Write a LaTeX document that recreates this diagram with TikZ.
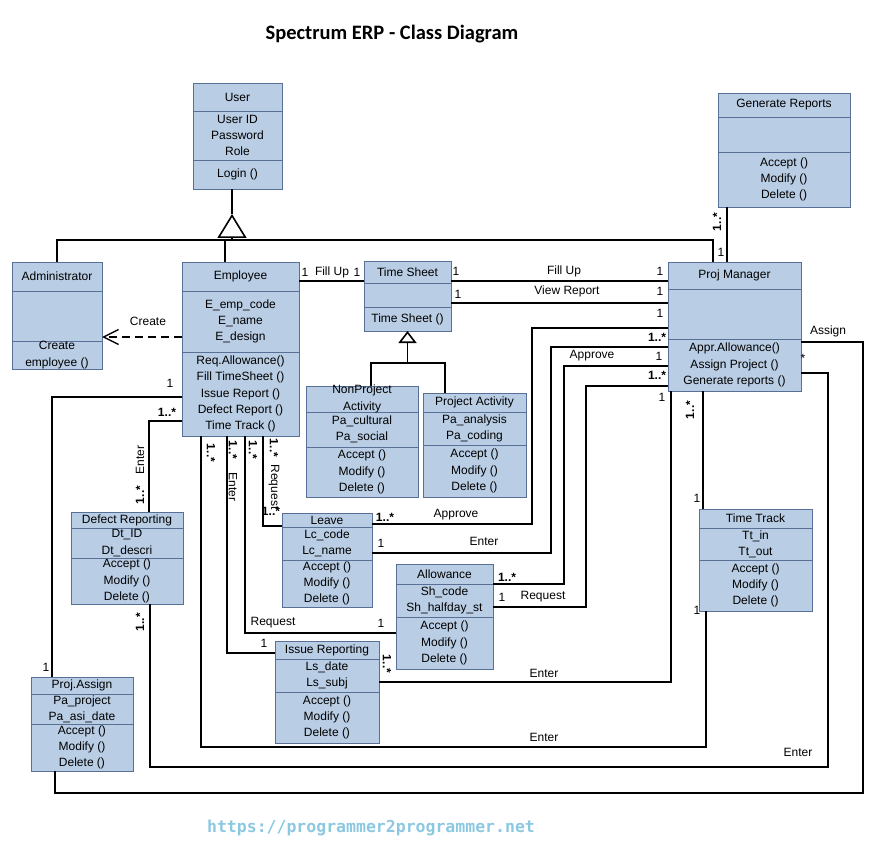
\documentclass[tikz,border=0pt]{standalone}
\usepackage{fontspec}
\setmainfont{Liberation Sans}
\newfontfamily\titlefont{Carlito}
\newfontfamily\urlfont{DejaVu Sans Mono}
\usetikzlibrary{arrows.meta,calc}

\definecolor{clsfill}{RGB}{185,205,228}
\definecolor{clsdraw}{RGB}{88,112,150}
\definecolor{urlblue}{RGB}{140,200,226}

% box with two dividers: name, left, right, top, div1, div2, bottom
\newcommand{\umlclass}[7]{%
  \node[clsbox, minimum width=#3-#2, minimum height=#7-#4] (#1) at ({(#2+#3)/2},{(#4+#7)/2}) {};
  \coordinate (#1-d1) at (#1.center |- 0,#5);
  \coordinate (#1-d2) at (#1.center |- 0,#6);
  \draw[clsedge] (#1.west |- #1-d1) -- (#1.east |- #1-d1) (#1.west |- #1-d2) -- (#1.east |- #1-d2);
}
% name, header, attributes, operations
\newcommand{\umltext}[4]{%
  \node[clstext] (#1-h) at ($(#1.north)!.5!(#1-d1)$) {#2};
  \node[clstext] (#1-a) at ($(#1-d1)!.5!(#1-d2)$) {#3};
  \node[clstext] (#1-m) at ($(#1-d2)!.5!(#1.south)$) {#4};
}

\begin{document}
\begin{tikzpicture}[x=1pt,y=-1pt,
    clsbox/.style={draw=clsdraw, fill=clsfill, line width=0.8pt, inner sep=0pt, outer sep=0pt},
    clsedge/.style={draw=clsdraw, line width=0.8pt},
    clstext/.style={align=center, inner sep=0pt, font=\fontsize{12}{16.3}\selectfont},
    assoc/.style={line width=1.6pt},
    mult/.style={inner sep=0pt, font=\fontsize{12}{14}\selectfont},
    mbold/.style={inner sep=0pt, font=\fontsize{12}{14}\selectfont\bfseries}]
\useasboundingbox (0,0) rectangle (870,842);

\node[font=\titlefont\bfseries\fontsize{20.5}{22}\selectfont] (title) at (392,34) {Spectrum ERP - Class Diagram};

% classes
\umlclass{user}{193}{282}{83}{111}{160}{189}
\umltext{user}{User}{User ID\\Password\\Role}{Login ()}
\umlclass{admin}{12}{102}{262}{291}{341}{369}
\umltext{admin}{Administrator}{}{Create\\employee ()}
\umlclass{emp}{182}{299}{262}{291}{352}{436}
\umltext{emp}{Employee}{E\_emp\_code\\E\_name\\E\_design}{Req.Allowance()\\Fill TimeSheet ()\\Issue Report ()\\Defect Report ()\\Time Track ()}
\umlclass{ts}{364}{451}{261}{283}{307}{331}
\umltext{ts}{Time Sheet}{}{Time Sheet ()}
\umlclass{nonproj}{306}{418}{386}{412}{447}{497}
\umltext{nonproj}{NonProject\\Activity}{Pa\_cultural\\Pa\_social}{Accept ()\\Modify ()\\Delete ()}
\umlclass{projact}{423}{526}{393}{412}{445}{497}
\umltext{projact}{Project Activity}{Pa\_analysis\\Pa\_coding}{Accept ()\\Modify ()\\Delete ()}
\umlclass{genrep}{718}{850}{93}{117}{152}{207}
\umltext{genrep}{Generate Reports}{}{Accept ()\\Modify ()\\Delete ()}
\umlclass{pm}{668}{801}{262}{289}{339}{391}
\umltext{pm}{Proj Manager}{}{Appr.Allowance()\\Assign Project ()\\Generate reports ()}
\umlclass{defect}{71}{183}{512}{528}{558}{604}
\umltext{defect}{Defect Reporting}{Dt\_ID\\Dt\_descri}{Accept ()\\Modify ()\\Delete ()}
\umlclass{leave}{282}{372}{513}{527}{560}{607}
\umltext{leave}{Leave}{Lc\_code\\Lc\_name}{Accept ()\\Modify ()\\Delete ()}
\umlclass{allow}{396}{493}{564}{584}{617}{669}
\umltext{allow}{Allowance}{Sh\_code\\Sh\_halfday\_st}{Accept ()\\Modify ()\\Delete ()}
\umlclass{issue}{275}{379}{641}{659}{692}{743}
\umltext{issue}{Issue Reporting}{Ls\_date\\Ls\_subj}{Accept ()\\Modify ()\\Delete ()}
\umlclass{ttrack}{699}{812}{509}{528}{560}{611}
\umltext{ttrack}{Time Track}{Tt\_in\\Tt\_out}{Accept ()\\Modify ()\\Delete ()}
\umlclass{passign}{31}{133}{677}{694}{724}{771}
\umltext{passign}{Proj.Assign}{Pa\_project\\Pa\_asi\_date}{Accept ()\\Modify ()\\Delete ()}

% generalizations
\coordinate (ugen) at (232,214);
\draw[assoc] (ugen) -- (user.south -| ugen);
\draw[assoc, -{Triangle[open,length=24pt,width=29pt]}] (ugen |- 0,240) -- (ugen);
\draw[assoc] (admin.north) |- (713,240) -- (pm.north -| 713,0);
\draw[assoc] (emp.north -| 225,0) -- (225,240);
\coordinate (tgen) at (ts.south |- 0,363);
\draw[assoc, -{Triangle[open,length=12pt,width=18pt]}] (tgen) -- (ts.south);
\draw[assoc] (nonproj.north -| 371,0) |- (tgen) -| (projact.north -| 445,0);

% dependency
\draw[line width=1.4pt, dash pattern=on 8pt off 5pt, -{Straight Barb[length=15pt,width=15pt]}] (emp.west |- 0,337) -- (admin.east |- 0,337);
\node[mult] (lcreate) at (148,321) {Create};

% associations
\draw[assoc] (emp.east |- 0,281) -- (ts.west |- 0,281);
\node[mult] (fa1) at (305,272) {1};
\node[mult] (fa2) at (332,272) {Fill Up};
\node[mult] (fa3) at (357,272) {1};

\draw[assoc] (ts.east |- 0,281) -- (pm.west |- 0,281);
\node[mult] (fb1) at (456,271) {1};
\node[mult] (fb2) at (564,271) {Fill Up};
\node[mult] (fb3) at (660,271) {1};

\draw[assoc] (ts.east |- 0,303) -- (pm.west |- 0,303);
\node[mult] (vr1) at (458,294) {1};
\node[mult] (vr2) at (567,291) {View Report};
\node[mult] (vr3) at (660,291) {1};

\draw[assoc] (genrep.south -| 727,0) -- (pm.north -| 727,0);
\node[mbold, rotate=90] (gr1) at (717,222) {1..*};
\node[mult] (gr2) at (721,252) {1};

\draw[assoc] (pm.south -| 703,0) -- (ttrack.north -| 703,0);
\node[mbold, rotate=90] (tt1) at (690,410) {1..*};
\node[mult] (tt2) at (697,498) {1};

\draw[assoc] (leave.east |- 0,524) -| (532,328) -- (pm.west |- 0,328);
\node[mbold] (la1) at (385,517) {1..*};
\node[mult] (la2) at (456,515) {Approve};
\node[mult] (la3) at (660,313) {1};

\draw[assoc] (leave.east |- 0,553) -| (551,347) -- (pm.west |- 0,347);
\node[mult] (le1) at (381,543) {1};
\node[mult] (le2) at (484,541) {Enter};
\node[mbold] (le3) at (657,337) {1..*};

\draw[assoc] (allow.east |- 0,584) -| (564,366) -- (pm.west |- 0,366);
\node[mbold] (aa1) at (507,577) {1..*};
\node[mult] (aa2) at (592,356) {Approve};
\node[mult] (aa3) at (659,356) {1};

\draw[assoc] (allow.east |- 0,607) -| (586,386) -- (pm.west |- 0,386);
\node[mult] (ar1) at (502,597) {1};
\node[mult] (ar2) at (543,597) {Request};
\node[mbold] (ar3) at (657,375) {1..*};

\draw[assoc] (issue.east |- 0,682) -| (pm.south -| 671,0);
\node[mbold, rotate=-90] (ie1) at (387,664) {1..*};
\node[mult] (ie2) at (544,673) {Enter};
\node[mult] (ie3) at (662,397) {1};

\draw[assoc] (emp.south -| 201,0) |- (706,747) -- (ttrack.south -| 706,0);
\node[mbold, rotate=-90] (et1) at (211,453) {1..*};
\node[mult] (et2) at (544,737) {Enter};
\node[mult] (et3) at (697,610) {1};

\draw[assoc] (defect.south -| 150,0) |- (828,767) |- (pm.east |- 0,373);
\node[mbold, rotate=90] (de1) at (140,622) {1..*};
\node[mult] (de2) at (798,752) {Enter};
\node[mult] (de3) at (803,358) {*};

\draw[assoc] (pm.east |- 0,342) -| (863,793) -| (passign.south -| 55,0);
\node[mult] (as1) at (828,331) {Assign};

\draw[assoc] (emp.west |- 0,397) -| (passign.north -| 52,0);
\node[mult] (ep1) at (170,383) {1};
\node[mult] (ep2) at (46,667) {1};

\draw[assoc] (emp.west |- 0,421) -| (defect.north -| 149,0);
\node[mbold] (ed1) at (167,412) {1..*};
\node[mult, rotate=90] (ed2) at (140,460) {Enter};
\node[mbold, rotate=90] (ed3) at (140,495) {1..*};

\draw[assoc] (emp.south -| 227,0) |- (issue.west |- 0,653);
\node[mbold, rotate=-90] (ei1) at (233,450) {1..*};
\node[mult, rotate=-90] (ei2) at (233,487) {Enter};
\node[mult] (ei3) at (264,643) {1};

\draw[assoc] (emp.south -| 245,0) |- (allow.west |- 0,633);
\node[mbold, rotate=-90] (ea1) at (253,450) {1..*};
\node[mult] (ea2) at (273,623) {Request};
\node[mult] (ea3) at (381,623) {1};

\draw[assoc] (emp.south -| 263,0) |- (leave.west |- 0,526);
\node[mbold, rotate=-90] (el1) at (274,448) {1..*};
\node[mult, rotate=-90] (el2) at (274,487) {Request};
\node[mbold] (el3) at (271,511) {1..*};

\node[font=\urlfont\bfseries\fontsize{16.5}{18}\selectfont, text=urlblue] (url) at (371,828) {https://programmer2programmer.net};
\end{tikzpicture}
\end{document}
